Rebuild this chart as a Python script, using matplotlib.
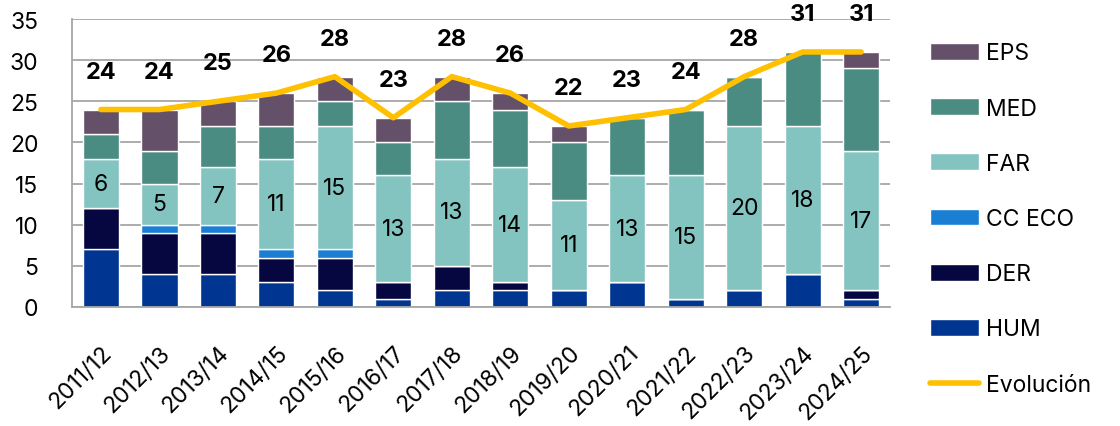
import matplotlib.pyplot as plt
import numpy as np

# curso academico
years = ['2011/12', '2012/13', '2013/14', '2014/15', '2015/16', '2016/17', '2017/18',
         '2018/19', '2019/20', '2020/21', '2021/22', '2022/23', '2023/24', '2024/25']

hum = [7, 4, 4, 3, 2, 1, 2, 2, 2, 3, 1, 2, 4, 1]
der = [5, 5, 5, 3, 4, 2, 3, 1, 0, 0, 0, 0, 0, 1]
cc_eco = [0, 1, 1, 1, 1, 0, 0, 0, 0, 0, 0, 0, 0, 0]
far = [6, 5, 7, 11, 15, 13, 13, 14, 11, 13, 15, 20, 18, 17]
med = [3, 4, 5, 4, 3, 4, 7, 7, 7, 7, 8, 6, 9, 10]
eps = [3, 5, 3, 4, 3, 3, 3, 2, 2, 0, 0, 0, 0, 2]

series = [('HUM', hum, '#003591'), ('DER', der, '#060640'), ('CC ECO', cc_eco, '#1a7fd4'),
          ('FAR', far, '#83c3c0'), ('MED', med, '#4a8c82'), ('EPS', eps, '#655069')]

plt.rcParams['font.family'] = ['Inter', 'DejaVu Sans']

fig = plt.figure(figsize=(11.2, 4.27), dpi=100)
ax = fig.add_axes([0.064, 0.279, 0.731, 0.674])

x = np.arange(len(years))
bottom = np.zeros(len(years))
bars = {}
for name, vals, col in series:
    vals = np.array(vals)
    bars[name] = ax.bar(x, vals, 0.62, bottom=bottom, color=col, edgecolor='white',
                        linewidth=1.0, label=name, zorder=2)
    if name == 'FAR':
        for xi, b, v in zip(x, bottom, vals):
            ax.text(xi, b + v / 2, str(v), ha='center', va='center', fontsize=16.5, zorder=4)
    bottom = bottom + vals

total = bottom
line, = ax.plot(x, total, color='#ffc000', lw=4, solid_capstyle='round', zorder=3, label='Evolución')
for xi, t in zip(x, total):
    ax.text(xi, t + 4.6, str(int(t)), ha='center', va='center', fontsize=17,
            fontweight='bold', clip_on=False, zorder=4)

ax.set_xlim(-0.5, len(years) - 0.5)
ax.set_ylim(0, 35)
ax.set_yticks(range(0, 36, 5))
ax.yaxis.grid(True, color='#a6a6a6', lw=1.3, zorder=0)
ax.set_axisbelow(True)
ax.set_xticks(x)
ax.set_xticklabels(years, rotation=45, ha='right', rotation_mode='anchor', fontsize=16.5)
ax.tick_params(axis='y', labelsize=16.5, length=0, pad=24)
ax.tick_params(axis='x', length=0, pad=25)
for s in ['top', 'right']:
    ax.spines[s].set_visible(False)
for s in ['left', 'bottom']:
    ax.spines[s].set_color('#a6a6a6')
    ax.spines[s].set_linewidth(1.3)

handles = [bars[n] for n in ['EPS', 'MED', 'FAR', 'CC ECO', 'DER', 'HUM']] + [line]
labels = ['EPS', 'MED', 'FAR', 'CC ECO', 'DER', 'HUM', 'Evolución']
fig.legend(handles, labels, loc='upper left', bbox_to_anchor=(0.822, 0.92), frameon=False,
           fontsize=16.5, labelspacing=1.45, handlelength=2.15, handleheight=0.75,
           handletextpad=0.3, borderaxespad=0)

plt.savefig('out.png', dpi=100)
